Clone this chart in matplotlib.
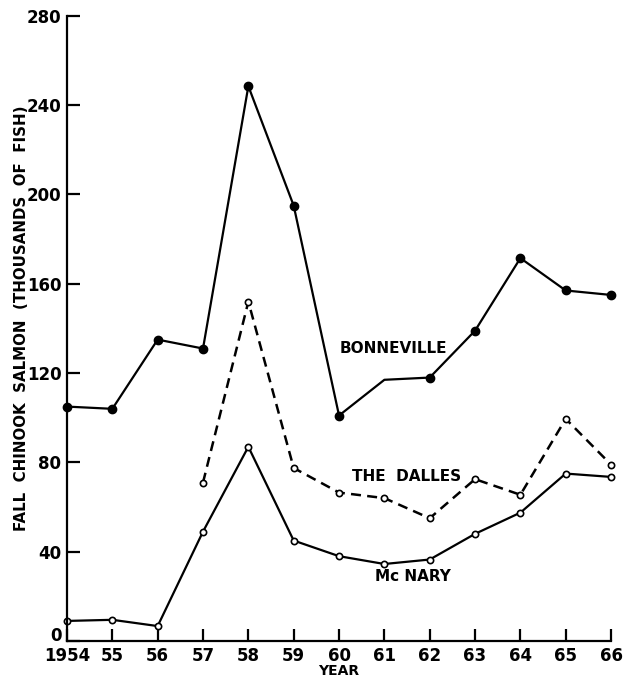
import matplotlib
matplotlib.use("Agg")
import matplotlib.pyplot as plt
from matplotlib.transforms import ScaledTranslation

# ── Data ────────────────────────────────────────────────────────────────────
YEARS = [1954, 1955, 1956, 1957, 1958, 1959, 1960, 1961, 1962, 1963, 1964, 1965, 1966]
X_TICK_LABELS = ["1954", "55", "56", "57", "58", "59", "60", "61", "62", "63", "64", "65", "66"]
Y_TICKS = [0, 40, 80, 120, 160, 200, 240, 280]

BONNEVILLE = [105, 104, 135, 131, 248.5, 195, 101, 117, 118, 139, 171.5, 157, 155]
# 1961 is a bend in the line but has no plotted point
BONNEVILLE_MARKED = [True] * 7 + [False] + [True] * 5

DALLES_YEARS = YEARS[3:]
DALLES = [71, 152, 77.5, 66.5, 64, 55, 72.5, 65.5, 99.5, 79]

MCNARY = [9, 9.5, 6.7, 49, 87, 45, 38, 34.5, 36.5, 48, 57.5, 75, 73.5]


def main() -> None:
    plt.rcParams.update({
        "font.family": "DejaVu Sans",
        "font.weight": "bold",
        "axes.labelweight": "bold",
        "font.size": 12,
        "axes.linewidth": 1.6,
    })

    fig = plt.figure(figsize=(6.29, 6.81), dpi=100)
    ax = fig.add_axes([0.1065, 0.0587, 0.865, 0.918])

    # Bonneville: solid line, filled dots
    ax.plot(YEARS, BONNEVILLE, color="black", lw=1.6, clip_on=False)
    bx = [x for x, m in zip(YEARS, BONNEVILLE_MARKED) if m]
    by = [y for y, m in zip(BONNEVILLE, BONNEVILLE_MARKED) if m]
    ax.plot(bx, by, "o", color="black", ms=6, clip_on=False, zorder=4)

    # The Dalles: dashed line, open circles
    ax.plot(DALLES_YEARS, DALLES, color="black", lw=1.8, ls=(0, (4, 2.5)),
            marker="o", ms=4.5, mfc="white", mec="black", mew=1.2,
            clip_on=False)

    # McNary: solid line, open circles
    ax.plot(YEARS, MCNARY, color="black", lw=1.6,
            marker="o", ms=4.5, mfc="white", mec="black", mew=1.2,
            clip_on=False)

    # Series labels
    ax.text(1961.2, 131, "BONNEVILLE", ha="center", va="center", fontsize=11)
    ax.text(1961.48, 73.6, "THE  DALLES", ha="center", va="center", fontsize=11)
    ax.text(1961.62, 28.8, "Mc NARY", ha="center", va="center", fontsize=11)

    ax.set_xlim(1954, 1966)
    ax.set_ylim(0, 280)
    ax.set_xticks(YEARS)
    ax.set_xticklabels(X_TICK_LABELS)
    ax.set_yticks(Y_TICKS)
    ax.tick_params(direction="in", length=9, width=1.6, labelsize=12)
    ax.tick_params(axis="x", pad=4)
    ax.tick_params(axis="y", pad=4)

    # the "0" sits a little above the x axis in the original
    ylab0 = ax.get_yticklabels()[0]
    ylab0.set_transform(ylab0.get_transform()
                        + ScaledTranslation(0, 5 / 72, fig.dpi_scale_trans))

    for side in ("top", "right"):
        ax.spines[side].set_visible(False)

    ax.set_xlabel("YEAR", fontsize=10)
    ax.xaxis.set_label_coords(0.5, -0.036)
    ax.set_ylabel("FALL  CHINOOK  SALMON  (THOUSANDS  OF  FISH)", fontsize=10.8)
    ax.yaxis.set_label_coords(-0.083, 0.517)
    ax.yaxis.label.set_va("center")

    fig.savefig("out.png", dpi=100)
    plt.close(fig)


if __name__ == "__main__":
    main()
